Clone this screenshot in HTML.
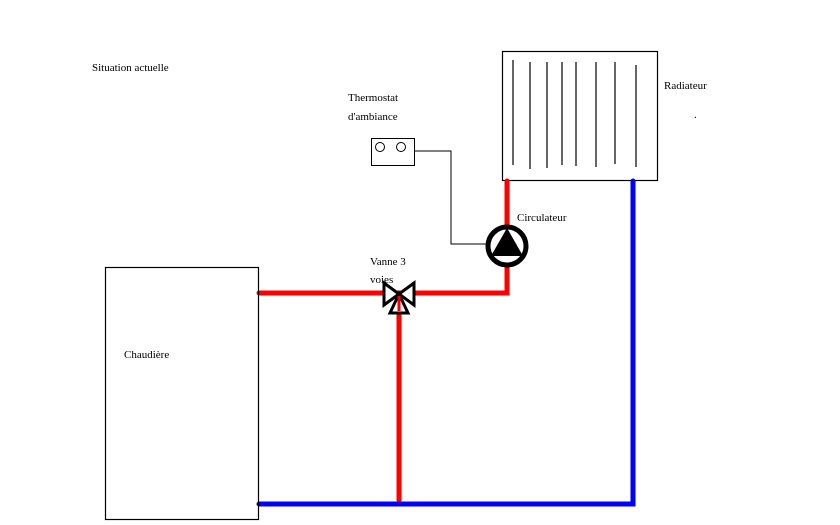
<!DOCTYPE html>
<html><head><meta charset="utf-8"><style>
html,body{margin:0;padding:0;background:#fff;}
svg{display:block}
text{font-family:"Liberation Serif",serif;font-size:11px;fill:#000}
</style></head><body>
<svg width="840" height="525" viewBox="0 0 840 525" xmlns="http://www.w3.org/2000/svg">
<rect width="840" height="525" fill="#fff"/>
<text x="92" y="71">Situation actuelle</text>
<rect x="502.5" y="51.5" width="155" height="129" fill="#fff" stroke="#000" stroke-width="1.2"/>
<g stroke="#000" stroke-width="1.2">
<line x1="513" y1="60" x2="513" y2="165"/>
<line x1="530" y1="62" x2="530" y2="169"/>
<line x1="547" y1="62" x2="547" y2="168"/>
<line x1="562" y1="62" x2="562" y2="165"/>
<line x1="576" y1="62" x2="576" y2="166"/>
<line x1="596" y1="62" x2="596" y2="167"/>
<line x1="615" y1="62" x2="615" y2="164"/>
<line x1="636" y1="65" x2="636" y2="167"/>
</g>
<text x="664" y="89">Radiateur</text>
<text x="694" y="118">.</text>
<text x="348" y="101">Thermostat</text>
<text x="348" y="120">d'ambiance</text>
<rect x="371.5" y="138.5" width="43" height="27" fill="#fff" stroke="#000" stroke-width="1"/>
<circle cx="380" cy="147" r="4.5" fill="none" stroke="#000" stroke-width="1"/>
<circle cx="401" cy="147" r="4.5" fill="none" stroke="#000" stroke-width="1"/>
<polyline points="414,151 451,151 451,244 490,244" fill="none" stroke="#000" stroke-width="1"/>
<g stroke-width="5" stroke-linecap="round" fill="none">
<polyline points="507,181 507,293 259,293" stroke="#f00"/>
<line x1="399" y1="293" x2="399" y2="500" stroke="#f00"/>
<polyline points="633,181 633,504 259,504" stroke="#00f"/>
</g>
<circle cx="507" cy="246" r="19" fill="#fff" stroke="#000" stroke-width="5"/>
<polygon points="507,228 491,256 523,256" fill="#000"/>
<text x="517" y="221">Circulateur</text>
<g fill="#fff" stroke="#000" stroke-width="3" stroke-linejoin="miter">
<polygon points="399,294 384,283 384,305"/>
<polygon points="399,294 414,283 414,305"/>
<polygon points="399,294 390,313 408,313"/>
</g>
<line x1="399" y1="296" x2="399" y2="311" stroke="#f00" stroke-width="3"/>
<text x="370" y="265">Vanne 3</text>
<text x="370" y="283">voies</text>
<rect x="105.5" y="267.5" width="153" height="252" fill="none" stroke="#000" stroke-width="1.2"/>
<text x="124" y="358">Chaudière</text>
</svg>
</body></html>
